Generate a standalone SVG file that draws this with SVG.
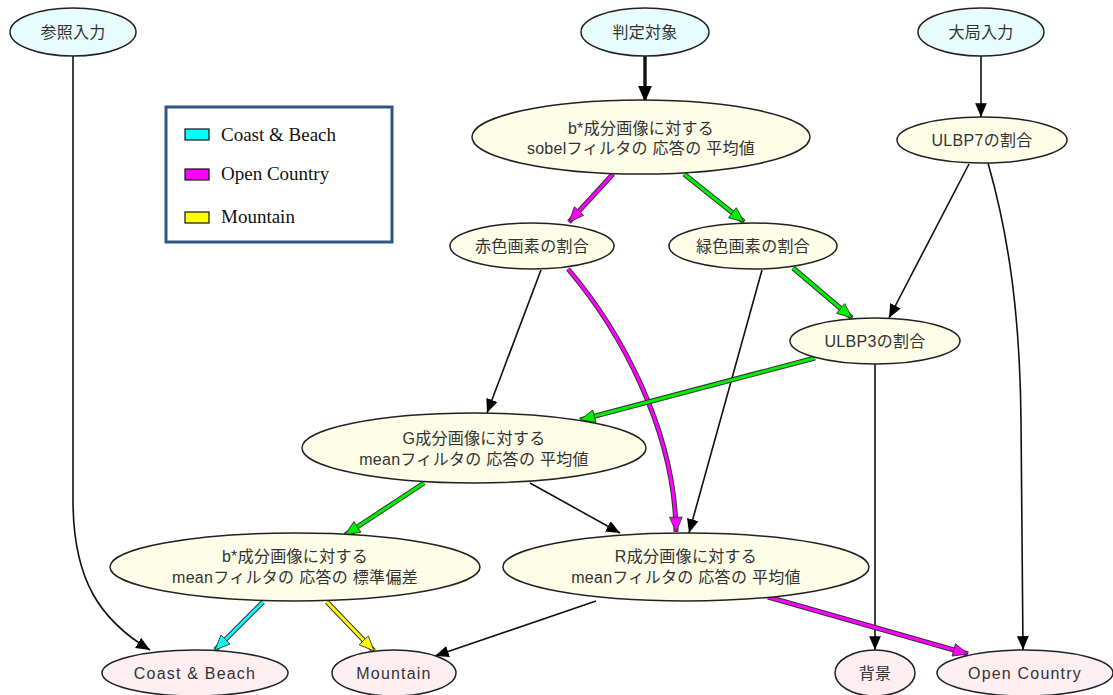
<svg xmlns="http://www.w3.org/2000/svg" width="1113" height="695" viewBox="0 0 1113 695">
  <style>
    .node ellipse { stroke: #222; stroke-width: 1.5; }
    .in ellipse { fill: #e6fcfd; }
    .mid ellipse { fill: #fdfde8; }
    .out ellipse { fill: #fdeef2; }
    .node text { font-family: "Liberation Sans", "Noto Sans CJK JP", sans-serif; font-size: 16px; fill: #333; text-anchor: middle; dominant-baseline: central; letter-spacing: 0.3px; }
    .node text.lat { letter-spacing: 1.2px; }
    .e { fill: none; stroke: #111; stroke-width: 1.6; }
    .bold { stroke-width: 3.4; }
    .under { fill: none; stroke: #333; stroke-width: 5; }
    .mag { fill: none; stroke: #ff00ff; stroke-width: 3; }
    .grn { fill: none; stroke: #00ee00; stroke-width: 3; }
    .cyn { fill: none; stroke: #00ffff; stroke-width: 3; }
    .yel { fill: none; stroke: #ffff00; stroke-width: 3; }
    .legend text { font-family: "Liberation Serif", serif; font-size: 19px; fill: #111; }
    .legend rect.sw { stroke: #111; stroke-width: 1.2; }
  </style>
  <defs>
    <marker id="ah" markerUnits="userSpaceOnUse" markerWidth="16" markerHeight="14" refX="13" refY="6" orient="auto" viewBox="0 0 15 12">
      <path d="M0,0.5 L13,6 L0,11.5 Z" fill="#000"/>
    </marker>
    <marker id="ahB" markerUnits="userSpaceOnUse" markerWidth="18" markerHeight="16" refX="15" refY="7" orient="auto" viewBox="0 0 17 14">
      <path d="M0,0.5 L15,7 L0,13.5 Z" fill="#000"/>
    </marker>
    <marker id="ahM" markerUnits="userSpaceOnUse" markerWidth="18" markerHeight="16" refX="15" refY="7" orient="auto" viewBox="0 0 17 14">
      <path d="M1,1 L15,7 L1,13 Z" fill="#ff00ff" stroke="#333" stroke-width="0.8"/>
    </marker>
    <marker id="ahG" markerUnits="userSpaceOnUse" markerWidth="18" markerHeight="16" refX="15" refY="7" orient="auto" viewBox="0 0 17 14">
      <path d="M1,1 L15,7 L1,13 Z" fill="#00ee00" stroke="#333" stroke-width="0.8"/>
    </marker>
    <marker id="ahC" markerUnits="userSpaceOnUse" markerWidth="18" markerHeight="16" refX="15" refY="7" orient="auto" viewBox="0 0 17 14">
      <path d="M1,1 L15,7 L1,13 Z" fill="#00ffff" stroke="#333" stroke-width="0.8"/>
    </marker>
    <marker id="ahY" markerUnits="userSpaceOnUse" markerWidth="18" markerHeight="16" refX="15" refY="7" orient="auto" viewBox="0 0 17 14">
      <path d="M1,1 L15,7 L1,13 Z" fill="#ffff00" stroke="#333" stroke-width="0.8"/>
    </marker>
  </defs>

  <rect width="1113" height="695" fill="#fff"/>

  <!-- connectors -->
  <g id="edges">
    <path class="e" d="M73,56 L73,500 C73,580 100,620 150,650" marker-end="url(#ah)"/>
    <path class="e bold" d="M645,56 L645,102" marker-end="url(#ahB)"/>
    <path class="e" d="M981,56 L981,117" marker-end="url(#ah)"/>
    <path class="e" d="M969,164 L889,318" marker-end="url(#ah)"/>
    <path class="e" d="M988,163 C1010,240 1020,320 1021,420 L1023,650" marker-end="url(#ah)"/>
    <path class="e" d="M541,270 L487,413" marker-end="url(#ah)"/>
    <path class="e" d="M762,270 L689,533" marker-end="url(#ah)"/>
    <path class="e" d="M875,364 L875,650" marker-end="url(#ah)"/>
    <path class="e" d="M530,483 L620,533" marker-end="url(#ah)"/>
    <path class="e" d="M596,601 L435,656" marker-end="url(#ah)"/>

    <!-- coloured class paths -->
    <g id="e-sobel-red">
      <path class="under" d="M613,174 L569,222"/>
      <path class="mag" d="M613,174 L569,222" marker-end="url(#ahM)"/>
    </g>
    <g id="e-sobel-green">
      <path class="under" d="M684,174 L744,222"/>
      <path class="grn" d="M684,174 L744,222" marker-end="url(#ahG)"/>
    </g>
    <g id="e-red-R">
      <path class="under" d="M568,269 C620,330 675,430 676,532"/>
      <path class="mag" d="M568,269 C620,330 675,430 676,532" marker-end="url(#ahM)"/>
    </g>
    <g id="e-green-ulbp3">
      <path class="under" d="M793,268 L852,318"/>
      <path class="grn" d="M793,268 L852,318" marker-end="url(#ahG)"/>
    </g>
    <g id="e-ulbp3-G">
      <path class="under" d="M815,358 L580,420"/>
      <path class="grn" d="M815,358 L580,420" marker-end="url(#ahG)"/>
    </g>
    <g id="e-G-bstd">
      <path class="under" d="M424,483 L345,535"/>
      <path class="grn" d="M424,483 L345,535" marker-end="url(#ahG)"/>
    </g>
    <g id="e-bstd-coast">
      <path class="under" d="M263,602 L215,650"/>
      <path class="cyn" d="M263,602 L215,650" marker-end="url(#ahC)"/>
    </g>
    <g id="e-bstd-mountain">
      <path class="under" d="M327,602 L374,651"/>
      <path class="yel" d="M327,602 L374,651" marker-end="url(#ahY)"/>
    </g>
    <g id="e-R-open">
      <path class="under" d="M768,597 L968,654"/>
      <path class="mag" d="M768,597 L968,654" marker-end="url(#ahM)"/>
    </g>
  </g>

  <!-- nodes -->
  <g id="n-ref" class="node in"><ellipse cx="73" cy="32" rx="63" ry="24"/><text x="73" y="32">参照入力</text></g>
  <g id="n-target" class="node in"><ellipse cx="645" cy="32" rx="64" ry="24"/><text x="645" y="32">判定対象</text></g>
  <g id="n-global" class="node in"><ellipse cx="981" cy="32" rx="63" ry="24"/><text x="981" y="32">大局入力</text></g>

  <g id="n-sobel" class="node mid"><ellipse cx="641" cy="137" rx="169" ry="37"/>
    <text x="641" y="128">b*成分画像に対する</text><text x="641" y="148">sobelフィルタの 応答の 平均値</text></g>
  <g id="n-ulbp7" class="node mid"><ellipse cx="982" cy="140" rx="85" ry="23"/><text x="982" y="140">ULBP7の割合</text></g>
  <g id="n-red" class="node mid"><ellipse cx="532" cy="246" rx="82" ry="23"/><text x="532" y="246">赤色画素の割合</text></g>
  <g id="n-green" class="node mid"><ellipse cx="753" cy="246" rx="84" ry="23"/><text x="753" y="246">緑色画素の割合</text></g>
  <g id="n-ulbp3" class="node mid"><ellipse cx="875" cy="341" rx="85" ry="23"/><text x="875" y="341">ULBP3の割合</text></g>
  <g id="n-gmean" class="node mid"><ellipse cx="474" cy="448" rx="172" ry="35"/>
    <text x="474" y="438">G成分画像に対する</text><text x="474" y="459">meanフィルタの 応答の 平均値</text></g>
  <g id="n-bstd" class="node mid"><ellipse cx="295" cy="567" rx="185" ry="34"/>
    <text x="295" y="556">b*成分画像に対する</text><text x="295" y="577">meanフィルタの 応答の 標準偏差</text></g>
  <g id="n-rmean" class="node mid"><ellipse cx="686" cy="567" rx="183" ry="34"/>
    <text x="686" y="556">R成分画像に対する</text><text x="686" y="577">meanフィルタの 応答の 平均値</text></g>

  <g id="n-coast" class="node out"><ellipse cx="195" cy="673" rx="93" ry="23"/><text class="lat" x="195" y="673">Coast &amp; Beach</text></g>
  <g id="n-mountain" class="node out"><ellipse cx="394" cy="673" rx="62" ry="23"/><text class="lat" x="394" y="673">Mountain</text></g>
  <g id="n-bg" class="node out"><ellipse cx="875" cy="673" rx="40" ry="23"/><text x="875" y="673">背景</text></g>
  <g id="n-open" class="node out"><ellipse cx="1025" cy="673" rx="88" ry="23"/><text class="lat" x="1025" y="673">Open Country</text></g>

  <!-- legend -->
  <g id="legend" class="legend">
    <rect x="166" y="107" width="226" height="135" fill="#fff" stroke="#2f5581" stroke-width="3"/>
    <rect class="sw" x="185" y="129" width="24" height="11" fill="#00ffff"/>
    <text x="221" y="141">Coast &amp; Beach</text>
    <rect class="sw" x="185" y="169" width="24" height="11" fill="#ff00ff"/>
    <text x="221" y="180">Open Country</text>
    <rect class="sw" x="185" y="212" width="24" height="11" fill="#ffff00"/>
    <text x="221" y="223">Mountain</text>
  </g>
</svg>
